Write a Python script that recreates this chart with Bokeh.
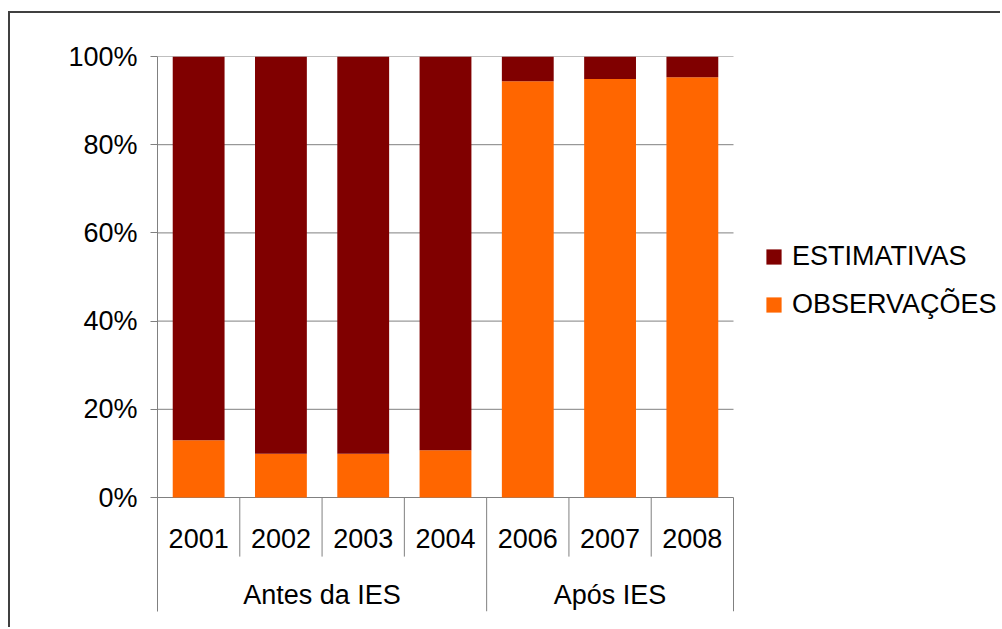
from bokeh.plotting import figure
from bokeh.models import (Range1d, FixedTicker, NumeralTickFormatter, Legend, LegendItem,
                          ColumnDataSource)
from bokeh.core.properties import value
from bokeh.embed import file_html
from bokeh.resources import INLINE

# ---- data ----
years = ["2001", "2002", "2003", "2004", "2006", "2007", "2008"]
group_names = ["Antes da IES", "Após IES"]
group_sizes = [4, 3]
observacoes = [0.130, 0.099, 0.099, 0.107, 0.944, 0.949, 0.953]
estimativas = [0.870, 0.901, 0.901, 0.893, 0.056, 0.051, 0.047]
y_ticks = [0.0, 0.2, 0.4, 0.6, 0.8, 1.0]

FONT = "Liberation Sans"
FS = "27px"
GRID = "#808080"
C_OBS = "#FF6600"
C_EST = "#800000"

n = len(years)
xc = [i + 0.5 for i in range(n)]
src = ColumnDataSource(dict(x=xc, obs=observacoes, est=estimativas, year=years))

# layout (canvas pixels)
W, H = 992, 616
left, top, bottom = 147, 43, 18
plot_px = 576                    # width of the category area
frame_px = W - left
x_end = n * frame_px / plot_px   # frame continues to the right to host the legend

y_bottom = -0.2585
p = figure(width=W, height=H, x_range=Range1d(0, x_end), y_range=Range1d(y_bottom, 1.0),
           output_backend="svg", toolbar_location=None, x_axis_location=None,
           min_border_left=left, min_border_right=0, min_border_top=top, min_border_bottom=bottom)
p.outline_line_color = None
p.background_fill_color = "white"
p.border_fill_color = "white"
# outer chart border (only top and left visible in the reference), drawn as an outer shadow
p.styles = {"margin-left": "10px", "margin-top": "13px",
            "box-shadow": "-2px -2px 0px 0px #404040"}

# y axis
ax = p.yaxis[0]
ax.ticker = FixedTicker(ticks=y_ticks)
ax.formatter = NumeralTickFormatter(format="0%")
ax.major_label_text_font = FONT
ax.major_label_text_font_size = FS
ax.major_label_text_color = "black"
ax.axis_line_color = GRID
ax.major_tick_line_color = GRID
ax.major_tick_out = 7
ax.major_tick_in = 0
ax.minor_tick_line_color = None
ax.major_label_standoff = 13

p.grid.visible = False
# horizontal gridlines spanning the category area only
p.segment(x0=[0] * len(y_ticks), y0=y_ticks, x1=[n] * len(y_ticks), y1=y_ticks,
          line_color=GRID, line_width=1)

# bars
rs = p.vbar_stack(["obs", "est"], x="x", width=0.63, source=src,
                  color=[C_OBS, C_EST], line_color=None)

# category table (separators + labels)
bounds = [0]
for s in group_sizes:
    bounds.append(bounds[-1] + s)
minor = [i for i in range(1, n) if i not in bounds]
year_depth = -0.134
p.segment(x0=minor, y0=[0] * len(minor), x1=minor, y1=[year_depth] * len(minor),
          line_color=GRID, line_width=1)
p.segment(x0=bounds[1:], y0=[0] * (len(bounds) - 1), x1=bounds[1:], y1=[y_bottom] * (len(bounds) - 1),
          line_color=GRID, line_width=1)
p.text(x="x", y=0, text="year", source=src, y_offset=41, text_align="center",
       text_baseline="middle", text_font=value(FONT), text_font_size=FS, text_color="black")
gx = [(bounds[i] + bounds[i + 1]) / 2 for i in range(len(group_names))]
p.text(x=gx, y=[0] * len(gx), text=group_names, y_offset=97, text_align="center",
       text_baseline="middle", text_font=value(FONT), text_font_size=FS, text_color="black")

# legend
legend = Legend(items=[LegendItem(label="ESTIMATIVAS", renderers=[rs[1]]),
                       LegendItem(label="OBSERVAÇÕES", renderers=[rs[0]])],
                location=(607, 291), orientation="vertical",
                label_text_font=FONT, label_text_font_size=FS, label_text_color="black",
                glyph_width=19, glyph_height=19, label_standoff=9, spacing=17,
                padding=0, margin=0, border_line_color=None, background_fill_alpha=0)
p.add_layout(legend)

open("out.html", "w").write(file_html(p, INLINE))
